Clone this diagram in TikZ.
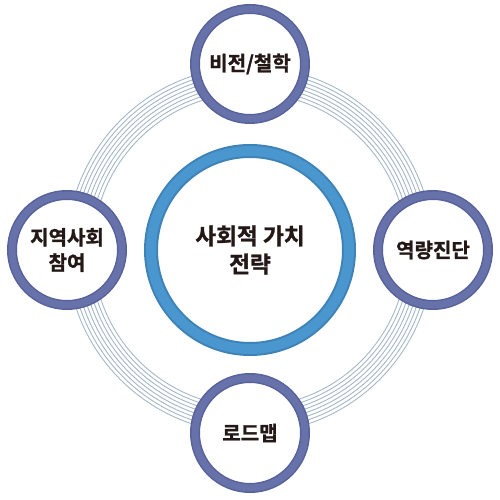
\documentclass[tikz,border=0pt]{standalone}
\usepackage{fontspec}
\setmainfont{Noto Sans CJK KR}[BoldFont={* Bold},BoldFeatures={FakeBold=1.3}]
\usetikzlibrary{positioning}
\definecolor{inkdark}{HTML}{231815}
\definecolor{coreblue}{HTML}{4A96CE}
\definecolor{coreedge}{HTML}{3E82B8}
\definecolor{satring}{HTML}{6872AA}
\definecolor{satedge}{HTML}{58629A}
\definecolor{orbitline}{HTML}{A3B6C6}

\begin{document}
\begin{tikzpicture}[node distance=3.66cm,
            core/.style={circle,draw=coreedge,double=coreblue,line width=0.04cm,
                         double distance=0.2cm,fill=white,minimum size=3.96cm,
                         inner sep=0pt,align=center,
                         font=\bfseries\fontsize{12.9}{16}\selectfont\color{inkdark}},
            sat/.style={circle,draw=satedge,double=satring,line width=0.03cm,
                        double distance=0.14cm,fill=white,minimum size=2.2cm,
                        inner sep=0pt,align=center,
                        font=\bfseries\fontsize{11.4}{14.4}\selectfont\color{inkdark}}]
          \useasboundingbox (-5,-5) rectangle (5,5);
          % orbit lines behind the outer circles
          \foreach \r in {3.14,3.215,...,3.67}
            \draw[orbitline,line width=0.5pt] (0,0) circle (\r);
          \node[core] (strategy) at (0,0) {사회적 가치\\전략};
          \node[sat,above=of strategy.center,anchor=center,yshift=0.06cm] (vision) {비전/철학};
          \node[sat,right=of strategy.center,anchor=center] (capacity) {역량진단};
          \node[sat,below=of strategy.center,anchor=center] (roadmap) {로드맵};
          \node[sat,left=of strategy.center,anchor=center] (community) {지역사회\\참여};
        \end{tikzpicture}
\end{document}
